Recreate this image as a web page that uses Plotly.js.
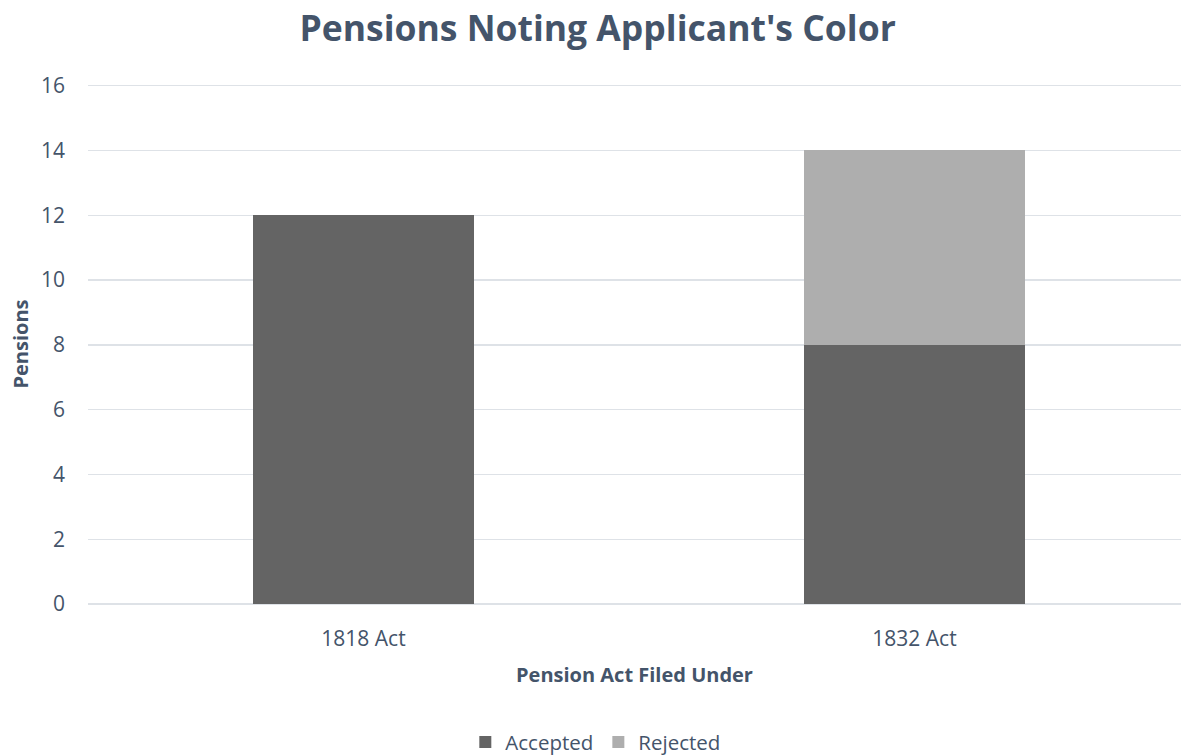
<!DOCTYPE html>
<html>
<head>
<meta charset="utf-8">
<script src="https://cdn.plot.ly/plotly-3.0.1.min.js"></script>
<style>html,body{margin:0;padding:0;background:#fff;}#chart{width:1181px;height:755px;}</style>
</head>
<body>
<div id="chart"></div>
<script>
const categories = ["1818 Act", "1832 Act"];
const accepted = [12, 8];
const rejected = [0, 6];
const seriesNames = ["Accepted", "Rejected"];
const yTicks = [0, 2, 4, 6, 8, 10, 12, 14, 16];

const textColor = "#44546A";
const font = "Open Sans, sans-serif";

const traces = [
  {type: "bar", name: seriesNames[0], x: categories, y: accepted, width: 0.401,
   marker: {color: "#646464", line: {width: 0}}, hoverinfo: "y+name"},
  {type: "bar", name: seriesNames[1], x: categories, y: rejected, width: 0.401,
   marker: {color: "#AEAEAE", line: {width: 0}}, hoverinfo: "y+name"}
];

const layout = {
  width: 1181, height: 755,
  barmode: "stack",
  paper_bgcolor: "#fff", plot_bgcolor: "#fff",
  margin: {l: 88, r: 0, t: 84, b: 150.5, pad: 0},
  font: {family: font, color: textColor, size: 21},
  title: {text: "<b>Pensions Noting Applicant's Color</b>", font: {family: font, size: 35.5, color: textColor},
          xref: "container", x: 0.506, xanchor: "center", yref: "container", y: 0.962, yanchor: "middle"},
  xaxis: {type: "category", range: [-0.5, 1.4837], showgrid: false, zeroline: false, showline: false,
          ticks: "", ticklabelstandoff: 20, tickfont: {size: 21, color: textColor},
          title: {text: "<b>Pension Act Filed Under</b>", font: {size: 20, color: textColor}, standoff: 16}},
  yaxis: {range: [0, 16.05], tickvals: yTicks, ticktext: yTicks.map(String), showgrid: true, gridcolor: "#DEE2E7", gridwidth: 1.4,
          zeroline: true, zerolinecolor: "#DEE2E7", zerolinewidth: 1.4, showline: false, ticks: "", ticklabelstandoff: 22,
          tickfont: {size: 21, color: textColor},
          title: {text: "<b>Pensions</b>", font: {size: 20, color: textColor}, standoff: 6}},
  showlegend: true,
  legend: {orientation: "h", xref: "container", x: 0.5045, xanchor: "center", yref: "container", y: 0.017, yanchor: "middle",
           font: {size: 20.5, color: textColor}, traceorder: "normal", itemwidth: 30}
};

Plotly.newPlot("chart", traces, layout, {displayModeBar: false, staticPlot: true});
</script>
</body>
</html>
